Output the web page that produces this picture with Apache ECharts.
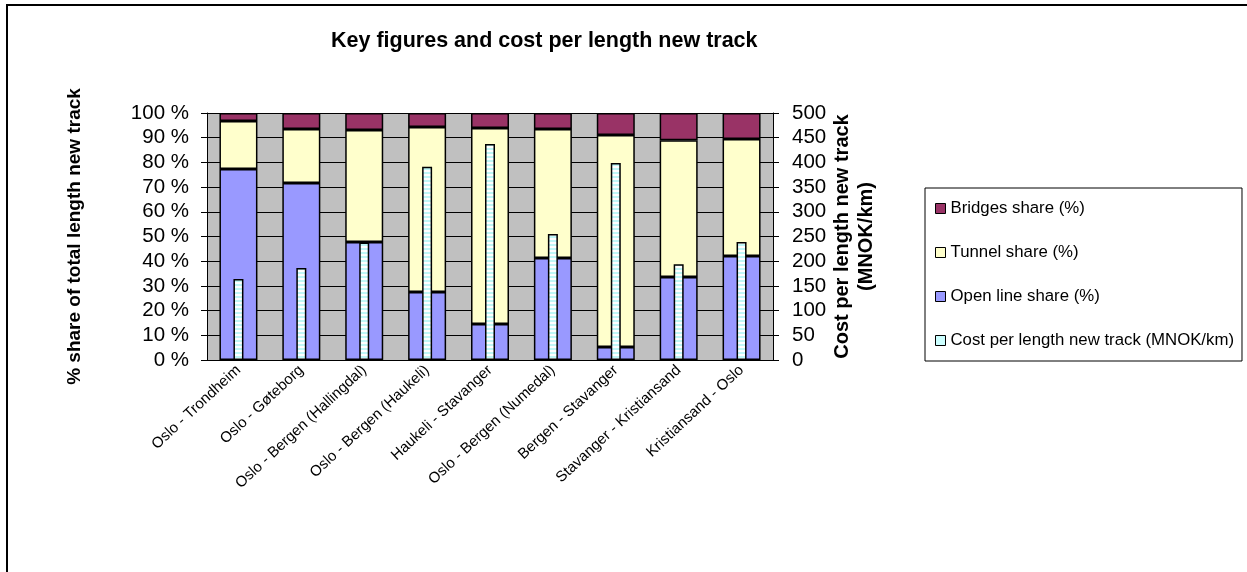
<!DOCTYPE html>
<html>
<head>
<meta charset="utf-8">
<script src="https://cdn.jsdelivr.net/npm/echarts@6/dist/echarts.min.js"></script>
<style>
  html, body { margin: 0; padding: 0; background: #fff; }
  #chart { width: 1247px; height: 572px; }
</style>
</head>
<body>
<div id="chart"></div>
<script>
const categories = ['Oslo - Trondheim', 'Oslo - Gøteborg', 'Oslo - Bergen (Hallingdal)', 'Oslo - Bergen (Haukeli)',
    'Haukeli - Stavanger', 'Oslo - Bergen (Numedal)', 'Bergen - Stavanger', 'Stavanger - Kristiansand', 'Kristiansand - Oslo'];
const openLineShare = [77.3, 71.7, 47.8, 27.5, 14.6, 41.3, 5.3, 33.6, 42.1];
const tunnelShare = [19.5, 21.8, 45.3, 66.8, 79.3, 52.2, 85.8, 55.4, 47.4];
const bridgesShare = [3.2, 6.5, 6.9, 5.7, 6.1, 6.5, 8.9, 11.0, 10.5];
const costPerKm = [164, 186, 238, 391, 437, 255, 399, 194, 239];

// striped fill for the cost bars
const stripe = document.createElement('canvas');
stripe.width = 4;
stripe.height = 4;
const sctx = stripe.getContext('2d');
sctx.fillStyle = '#ffffff';
sctx.fillRect(0, 0, 4, 4);
sctx.fillStyle = '#bff7f7';
sctx.fillRect(0, 0, 4, 2);

const font = 'Liberation Sans, Arial, sans-serif';
const chart = echarts.init(document.getElementById('chart'));

const option = {
    animation: false,
    textStyle: { fontFamily: font, color: '#000' },
    title: {
        text: 'Key figures and cost per length new track',
        left: 331,
        top: 30,
        padding: 0,
        textStyle: { fontSize: 21.5, fontWeight: 'bold', color: '#000', fontFamily: font }
    },
    graphic: [{
        type: 'rect',
        shape: { x: 7, y: 5, width: 1400, height: 800 },
        style: { fill: 'none', stroke: '#000', lineWidth: 2 },
        silent: true
    }],
    legend: {
        orient: 'vertical',
        left: 925,
        top: 188,
        padding: [12, 8, 12, 10],
        itemGap: 27,
        itemWidth: 10,
        itemHeight: 10,
        borderColor: '#000',
        borderWidth: 1,
        borderRadius: 0,
        icon: 'rect',
        itemStyle: { borderColor: '#000', borderWidth: 1 },
        textStyle: { fontSize: 16.8, color: '#000', fontFamily: font },
        data: [
            { name: 'Bridges share (%)' },
            { name: 'Tunnel share (%)' },
            { name: 'Open line share (%)' },
            { name: 'Cost per length new track (MNOK/km)', itemStyle: { color: '#ccffff' } }
        ]
    },
    grid: {
        left: 207,
        right: 474,
        top: 113,
        bottom: 212,
        show: true,
        backgroundColor: '#c0c0c0',
        borderWidth: 0
    },
    xAxis: [{
        type: 'category',
        data: categories,
        axisLine: { lineStyle: { color: '#000', width: 1 } },
        axisTick: { length: 5, lineStyle: { color: '#000' } },
        axisLabel: { rotate: 43, fontSize: 15, color: '#000', margin: 8, interval: 0 }
    }, {
        type: 'category',
        data: categories,
        show: false
    }],
    yAxis: [{
        type: 'value',
        min: 0,
        max: 100,
        interval: 10,
        name: '% share of total length new track',
        nameLocation: 'middle',
        nameRotate: 90,
        nameGap: 123,
        nameTextStyle: { fontSize: 19, fontWeight: 'bold', color: '#000' },
        axisLine: { show: true, lineStyle: { color: '#000' } },
        axisTick: { show: true, length: 6, lineStyle: { color: '#000' } },
        axisLabel: { formatter: '{value} %', fontSize: 20.5, color: '#000', margin: 18 },
        splitLine: { show: true, lineStyle: { color: '#000', width: 1 } }
    }, {
        type: 'value',
        min: 0,
        max: 500,
        interval: 50,
        position: 'right',
        name: 'Cost per length new track\n(MNOK/km)',
        nameLocation: 'middle',
        nameRotate: 90,
        nameGap: 52,
        nameTextStyle: { fontSize: 20, fontWeight: 'bold', color: '#000', lineHeight: 24 },
        axisLine: { show: true, lineStyle: { color: '#000' } },
        axisTick: { show: true, length: 6, lineStyle: { color: '#000' } },
        axisLabel: { fontSize: 20.5, color: '#000', margin: 19 },
        splitLine: { show: false }
    }],
    series: [{
        name: 'Open line share (%)',
        type: 'bar',
        stack: 'share',
        barWidth: 38,
        data: openLineShare,
        itemStyle: { color: '#9999ff', borderColor: '#000', borderWidth: 1.5 }
    }, {
        name: 'Tunnel share (%)',
        type: 'bar',
        stack: 'share',
        barWidth: 38,
        data: tunnelShare,
        itemStyle: { color: '#ffffcc', borderColor: '#000', borderWidth: 1.5 }
    }, {
        name: 'Bridges share (%)',
        type: 'bar',
        stack: 'share',
        barWidth: 38,
        data: bridgesShare,
        itemStyle: { color: '#993366', borderColor: '#000', borderWidth: 1.5 }
    }, {
        name: 'Cost per length new track (MNOK/km)',
        type: 'bar',
        xAxisIndex: 1,
        yAxisIndex: 1,
        barWidth: 10,
        z: 5,
        data: costPerKm,
        itemStyle: { color: { image: stripe, repeat: 'repeat' }, borderColor: '#000', borderWidth: 1.5 }
    }]
};

chart.setOption(option);
</script>
</body>
</html>
